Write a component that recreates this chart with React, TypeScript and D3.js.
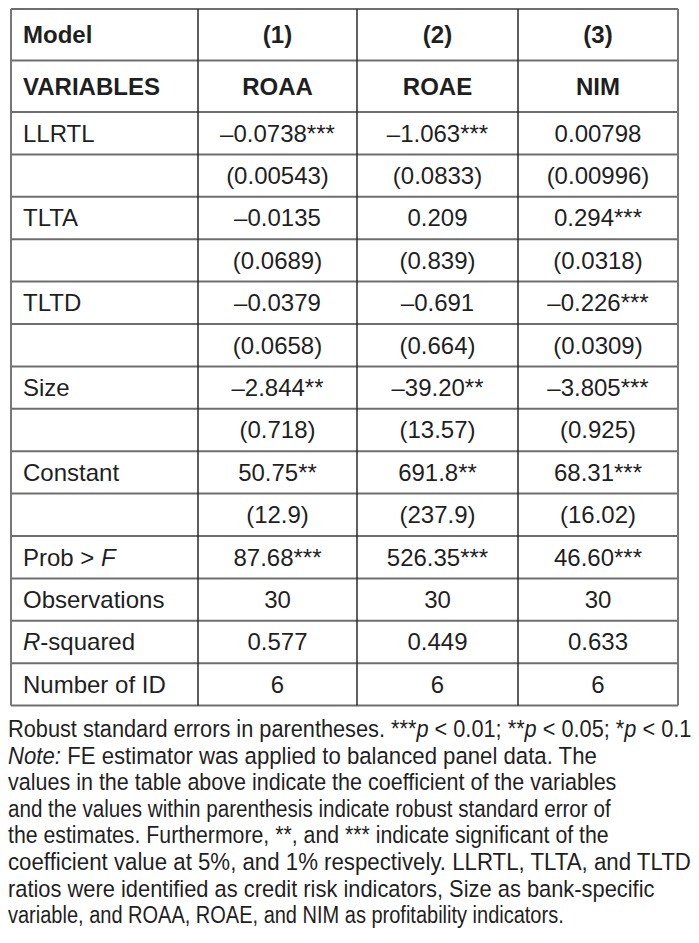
import React, { useEffect, useRef } from "react";
import * as d3 from "d3";

const models = ["(1)", "(2)", "(3)"];
const depVars = ["ROAA", "ROAE", "NIM"];
const variables = ["LLRTL", "TLTA", "TLTD", "Size", "Constant"];
const coefROAA = ["–0.0738***", "–0.0135", "–0.0379", "–2.844**", "50.75**"];
const coefROAE = ["–1.063***", "0.209", "–0.691", "–39.20**", "691.8**"];
const coefNIM = ["0.00798", "0.294***", "–0.226***", "–3.805***", "68.31***"];
const seROAA = ["(0.00543)", "(0.0689)", "(0.0658)", "(0.718)", "(12.9)"];
const seROAE = ["(0.0833)", "(0.839)", "(0.664)", "(13.57)", "(237.9)"];
const seNIM = ["(0.00996)", "(0.0318)", "(0.0309)", "(0.925)", "(16.02)"];
const statLabels = ["Prob > F", "Observations", "R-squared", "Number of ID"];
const statROAA = ["87.68***", "30", "0.577", "6"];
const statROAE = ["526.35***", "30", "0.449", "6"];
const statNIM = ["46.60***", "30", "0.633", "6"];

const footnote = [
  "Robust standard errors in parentheses. ***p < 0.01; **p < 0.05; *p < 0.1",
  "Note: FE estimator was applied to balanced panel data. The",
  "values in the table above indicate the coefficient of the variables",
  "and the values within parenthesis indicate robust standard error of",
  "the estimates. Furthermore, **, and *** indicate significant of the",
  "coefficient value at 5%, and 1% respectively. LLRTL, TLTA, and TLTD",
  "ratios were identified as credit risk indicators, Size as bank-specific",
  "variable, and ROAA, ROAE, and NIM as profitability indicators.",
];
const footnoteWidths = [684, 589, 609, 603, 601, 683, 647, 556];

function App() {
  const ref = useRef<HTMLDivElement>(null);

  useEffect(() => {
    d3.select(ref.current).selectAll("*").remove();
    const width = 699;
    const height = 943;
    const font = "'Liberation Sans', Arial, Helvetica, sans-serif";

    const svg = d3
      .select(ref.current)
      .append("svg")
      .attr("width", width)
      .attr("height", height)
      .style("position", "absolute")
      .style("left", 0)
      .style("top", 0)
      .style("background", "#fff");

    // table rows: header rows, coef/se pairs, stats
    const cols = [coefROAA, coefROAE, coefNIM];
    const ses = [seROAA, seROAE, seNIM];
    const stats = [statROAA, statROAE, statNIM];
    type Row = { label: string; cells: string[]; bold?: boolean; header?: boolean };
    const rows: Row[] = [
      { label: "Model", cells: models, bold: true, header: true },
      { label: "VARIABLES", cells: depVars, bold: true, header: true },
    ];
    variables.forEach((v, i) => {
      rows.push({ label: v, cells: cols.map(c => c[i]) });
      rows.push({ label: "", cells: ses.map(c => c[i]) });
    });
    statLabels.forEach((s, i) => {
      rows.push({ label: s, cells: stats.map(c => c[i]) });
    });

    const rowH = rows.map(r => (r.header ? 51.5 : 42.4));
    const top = 9;
    const yEdges = [top, ...Array.from(d3.cumsum(rowH)).map(v => top + v)];
    const xEdges = [11, 198, 357, 518, 678];

    const x = d3.scaleLinear().domain([0, 4]).range([0, 4]);
    const colX = (i: number) => xEdges[x(i)];

    const g = svg.append("g");

    // horizontal lines
    g.selectAll("line.h")
      .data(yEdges)
      .enter()
      .append("line")
      .attr("class", "h")
      .attr("x1", xEdges[0])
      .attr("x2", xEdges[4])
      .attr("y1", d => d)
      .attr("y2", d => d)
      .attr("stroke", "#6e6e6e")
      .attr("stroke-width", 2);

    // vertical lines
    g.selectAll("line.v")
      .data(xEdges)
      .enter()
      .append("line")
      .attr("class", "v")
      .attr("x1", d => d)
      .attr("x2", d => d)
      .attr("y1", yEdges[0])
      .attr("y2", yEdges[yEdges.length - 1])
      .attr("stroke", (d, i) => (i === 0 || i === 4 ? "#777" : "#2a2a2a"))
      .attr("stroke-width", (d, i) => (i === 0 || i === 4 ? 2 : 1.5));

    const fs = 24;
    rows.forEach((r, ri) => {
      const cy = (yEdges[ri] + yEdges[ri + 1]) / 2 + fs * 0.35;
      const lab = g
        .append("text")
        .attr("x", colX(0) + 12)
        .attr("y", cy)
        .attr("font-family", font)
        .attr("font-size", fs)
        .attr("font-weight", r.bold ? "bold" : "normal")
        .attr("fill", "#1f1f1f");
      if (r.label === "Prob > F") {
        lab.append("tspan").text("Prob > ");
        lab.append("tspan").attr("font-style", "italic").text("F");
      } else if (r.label === "R-squared") {
        lab.append("tspan").attr("font-style", "italic").text("R");
        lab.append("tspan").text("-squared");
      } else {
        lab.text(r.label);
      }
      r.cells.forEach((c, ci) => {
        g.append("text")
          .attr("x", (colX(ci + 1) + colX(ci + 2)) / 2)
          .attr("y", cy)
          .attr("text-anchor", "middle")
          .attr("font-family", font)
          .attr("font-size", fs)
          .attr("font-weight", r.bold ? "bold" : "normal")
          .attr("fill", "#1f1f1f")
          .text(c);
      });
    });

    // footnote: condensed lines, squeezed horizontally to the measured widths
    const fn = svg.append("g");
    const fnFs = 23.5;
    footnote.forEach((line, i) => {
      const t = fn
        .append("text")
        .attr("x", 0)
        .attr("y", 0)
        .attr("font-family", font)
        .attr("font-size", fnFs)
        .attr("fill", "#1f1f1f");
      if (i === 0) {
        const parts = line.split(/(p)(?= <)/);
        parts.forEach(p => {
          t.append("tspan")
            .attr("font-style", p === "p" ? "italic" : "normal")
            .text(p);
        });
      } else if (i === 1) {
        t.append("tspan").attr("font-style", "italic").text("Note:");
        t.append("tspan").text(line.slice(5));
      } else {
        t.text(line);
      }
      const natural = (t.node() as SVGTextElement).getComputedTextLength() || 1;
      const k = footnoteWidths[i] / natural;
      t.attr("transform", `translate(8, ${737 + i * 26.6}) scale(${k}, 1)`);
    });
  });

  return <div id="table" ref={ref} />;
}

export default App;
